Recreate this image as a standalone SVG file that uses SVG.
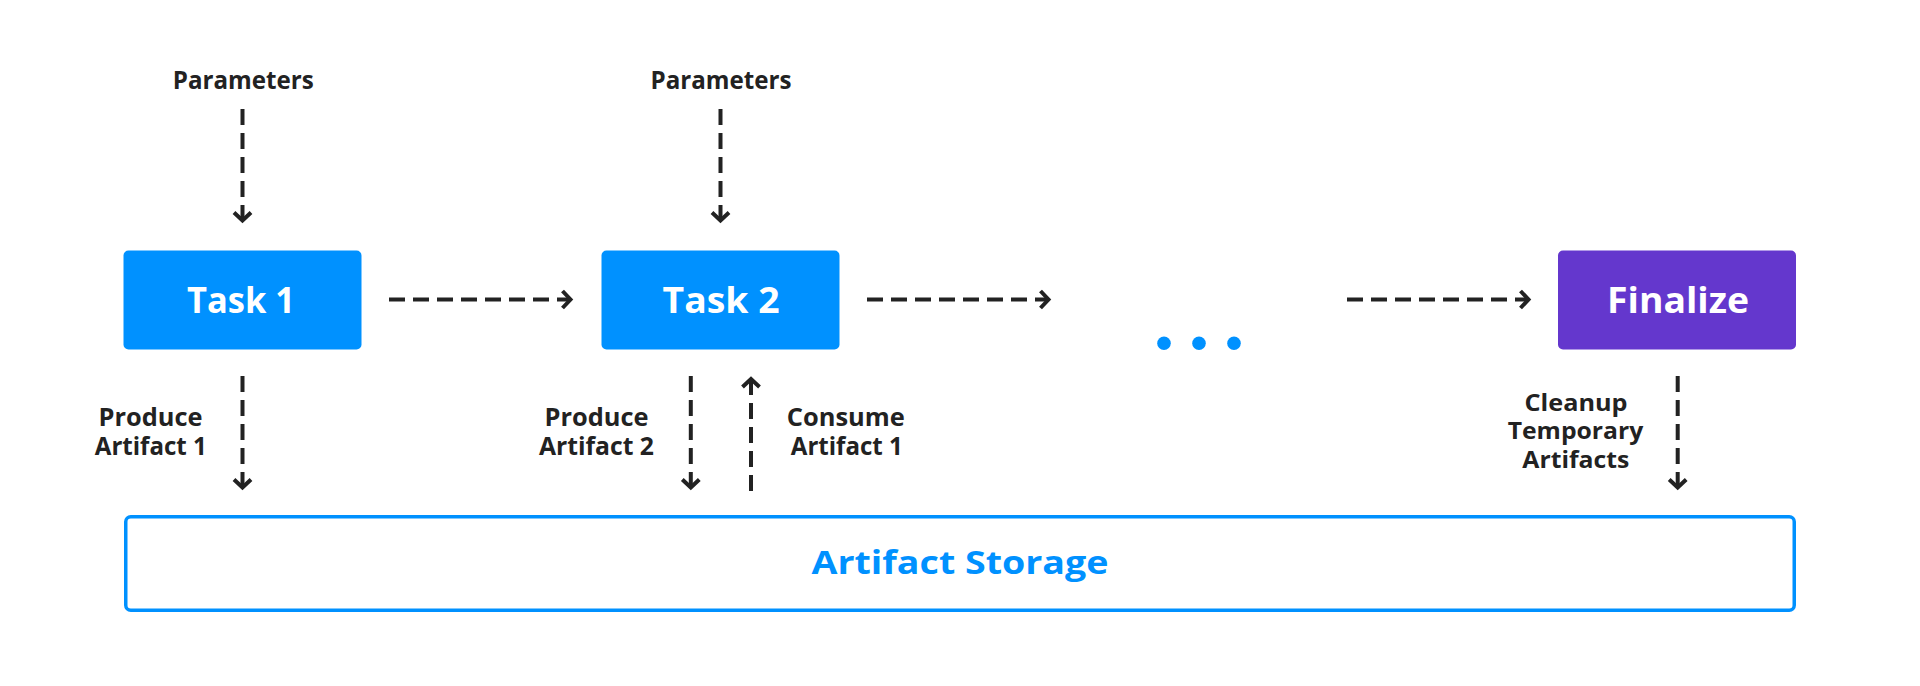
<svg xmlns="http://www.w3.org/2000/svg" width="1920" height="686" viewBox="0 0 1920 686">
<defs>
<style>
.lbl{font-family:"Open Sans","Noto Sans",sans-serif;font-weight:700;font-size:24.5px;fill:#222222;text-anchor:middle}
.lbl3{font-family:"Open Sans","Noto Sans",sans-serif;font-weight:700;font-size:23.5px;fill:#222222;text-anchor:middle}
.tsk{font-family:"Open Sans","Noto Sans",sans-serif;font-weight:700;font-size:36px;fill:#ffffff;text-anchor:middle}
.stor{font-family:"Open Sans","Noto Sans",sans-serif;font-weight:700;font-size:32px;fill:#0091FF;text-anchor:middle}
.task{fill:#0091FF}
.fin{fill:#6437CD}
.conn{fill:none;stroke:#222222;stroke-width:4;stroke-dasharray:16 8;marker-end:url(#ah)}
.dot{fill:#0091FF}
</style>
<marker id="ah" markerUnits="userSpaceOnUse" markerWidth="30" markerHeight="30" viewBox="-15 -15 30 30" refX="0" refY="0" orient="auto" overflow="visible">
<path d="M-8,-8.5 L0,0 L-8,8.5" fill="none" stroke="#222222" stroke-width="4" stroke-dasharray="none"/>
</marker>
</defs>
<rect width="1920" height="686" fill="#ffffff"/>

<g id="connectors">
<path class="conn" d="M242.5,109 V220.5"/>
<path class="conn" d="M720.5,109 V220.5"/>
<path class="conn" d="M389,299.5 H570.5"/>
<path class="conn" d="M867,299.5 H1048.5"/>
<path class="conn" d="M1347,299.5 H1528.5"/>
<path class="conn" d="M242.5,376 V487.5"/>
<path class="conn" d="M690.8,376 V487.5"/>
<path class="conn" d="M751,491 V379"/>
<path class="conn" d="M1677.7,376 V487.5"/>
</g>

<g id="param1"><text class="lbl" x="243.3" y="89" textLength="141" lengthAdjust="spacingAndGlyphs">Parameters</text></g>
<g id="param2"><text class="lbl" x="721" y="89" textLength="141" lengthAdjust="spacingAndGlyphs">Parameters</text></g>

<g id="task1">
<rect class="task" x="123.5" y="250.5" width="238" height="99" rx="5"/>
<text class="tsk" x="241" y="313" textLength="108" lengthAdjust="spacingAndGlyphs">Task 1</text>
</g>
<g id="task2">
<rect class="task" x="601.5" y="250.5" width="238" height="99" rx="5"/>
<text class="tsk" x="721" y="313" textLength="117" lengthAdjust="spacingAndGlyphs">Task 2</text>
</g>
<g id="ellipsis">
<circle class="dot" cx="1164" cy="343.3" r="6.8"/>
<circle class="dot" cx="1199" cy="343.3" r="6.8"/>
<circle class="dot" cx="1234" cy="343.3" r="6.8"/>
</g>
<g id="finalize">
<rect class="fin" x="1558" y="250.5" width="238" height="99" rx="5"/>
<text class="tsk" x="1678" y="312.5" textLength="142" lengthAdjust="spacingAndGlyphs">Finalize</text>
</g>

<g id="label-produce1">
<text class="lbl" x="150.5" y="425.7" textLength="104" lengthAdjust="spacingAndGlyphs">Produce</text>
<text class="lbl" x="150.8" y="455" textLength="112" lengthAdjust="spacingAndGlyphs">Artifact 1</text>
</g>
<g id="label-produce2">
<text class="lbl" x="596.5" y="425.7" textLength="104" lengthAdjust="spacingAndGlyphs">Produce</text>
<text class="lbl" x="596.5" y="455" textLength="115" lengthAdjust="spacingAndGlyphs">Artifact 2</text>
</g>
<g id="label-consume">
<text class="lbl" x="845.8" y="425.7" textLength="118" lengthAdjust="spacingAndGlyphs">Consume</text>
<text class="lbl" x="846.8" y="455" textLength="112" lengthAdjust="spacingAndGlyphs">Artifact 1</text>
</g>
<g id="label-cleanup">
<text class="lbl3" x="1576" y="410.5" textLength="103" lengthAdjust="spacingAndGlyphs">Cleanup</text>
<text class="lbl3" x="1575.5" y="439.3" textLength="135.6" lengthAdjust="spacingAndGlyphs">Temporary</text>
<text class="lbl3" x="1575.8" y="468" textLength="107" lengthAdjust="spacingAndGlyphs">Artifacts</text>
</g>

<g id="storage">
<rect x="125.75" y="516.75" width="1668.5" height="93.5" rx="5" fill="#ffffff" stroke="#0091FF" stroke-width="3.5"/>
<text class="stor" x="960" y="574" textLength="297" lengthAdjust="spacingAndGlyphs">Artifact Storage</text>
</g>
</svg>
